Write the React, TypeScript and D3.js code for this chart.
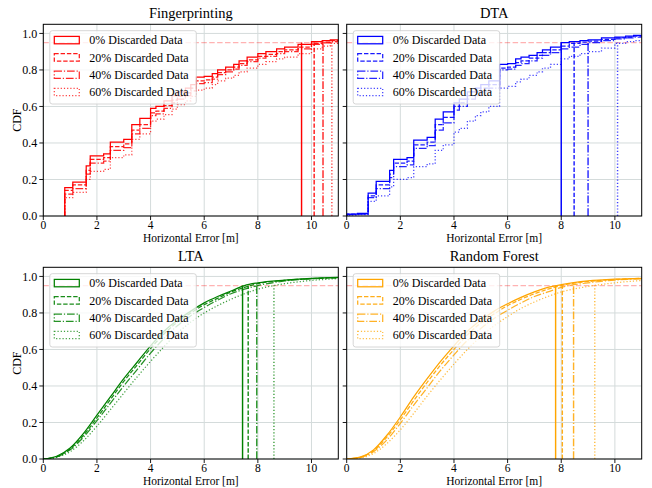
import React from 'react';
import * as d3 from 'd3';

// ---------- data ----------
const panelTitles = ['Fingerprinting', 'DTA', 'LTA', 'Random Forest'];
const panelColors = ['red', 'blue', 'green', 'orange'];
const seriesLabels = ['0% Discarded Data', '20% Discarded Data', '40% Discarded Data', '60% Discarded Data'];
const xTicks = [0, 2, 4, 6, 8, 10];
const yTicks = [0, 0.2, 0.4, 0.6, 0.8, 1.0];
const xTickLabels = ['0', '2', '4', '6', '8', '10'];
const yTickLabels = ['0.0', '0.2', '0.4', '0.6', '0.8', '1.0'];
const xLabel = 'Horizontal Error [m]';
const yLabel = 'CDF';
const threshold = 0.95;

// Fingerprinting (step CDF)
const fpX = [0.8, 1.1, 1.6, 1.75, 2.25, 2.5, 3.0, 3.3, 3.6, 4.0, 4.2, 4.5, 4.8, 5.0, 5.3, 5.5, 5.7, 6.0, 6.3, 6.5, 6.8, 7.1, 7.3, 7.6, 8.0, 8.3, 8.7, 9.0, 9.5, 10.0, 10.4, 10.7];
const fp0 = [0.155, 0.185, 0.275, 0.33, 0.34, 0.405, 0.42, 0.50, 0.535, 0.59, 0.60, 0.63, 0.66, 0.68, 0.70, 0.72, 0.76, 0.765, 0.78, 0.80, 0.815, 0.83, 0.85, 0.87, 0.89, 0.90, 0.915, 0.925, 0.94, 0.955, 0.96, 0.965];
const fp20 = [0.14, 0.17, 0.25, 0.31, 0.32, 0.38, 0.395, 0.47, 0.50, 0.565, 0.575, 0.605, 0.635, 0.655, 0.675, 0.70, 0.74, 0.745, 0.76, 0.785, 0.80, 0.815, 0.835, 0.855, 0.875, 0.885, 0.90, 0.91, 0.925, 0.945, 0.952, 0.96];
const fp40 = [0.12, 0.15, 0.23, 0.29, 0.30, 0.36, 0.375, 0.45, 0.48, 0.55, 0.56, 0.59, 0.62, 0.64, 0.66, 0.685, 0.725, 0.73, 0.75, 0.775, 0.79, 0.805, 0.825, 0.845, 0.865, 0.875, 0.89, 0.90, 0.915, 0.94, 0.948, 0.955];
const fp60 = [0.10, 0.13, 0.20, 0.245, 0.255, 0.32, 0.335, 0.42, 0.45, 0.52, 0.53, 0.555, 0.585, 0.61, 0.63, 0.655, 0.69, 0.70, 0.72, 0.74, 0.755, 0.77, 0.79, 0.81, 0.83, 0.845, 0.86, 0.87, 0.89, 0.915, 0.93, 0.945];
const fpP95 = [9.63, 10.1, 10.43, 10.76];

// DTA (step CDF)
const dtaX = [0, 0.4, 0.8, 1.1, 1.6, 1.75, 2.25, 2.5, 3.0, 3.3, 3.6, 4.0, 4.2, 4.5, 4.8, 5.0, 5.3, 5.7, 6.0, 6.3, 6.5, 6.8, 7.1, 7.3, 7.6, 8.0, 8.3, 8.7, 9.0, 9.5, 10.0, 10.4, 10.7];
const dta0 = [0.01, 0.015, 0.125, 0.19, 0.25, 0.31, 0.32, 0.415, 0.43, 0.53, 0.57, 0.62, 0.64, 0.68, 0.70, 0.72, 0.74, 0.83, 0.835, 0.86, 0.87, 0.88, 0.895, 0.91, 0.925, 0.95, 0.955, 0.96, 0.965, 0.975, 0.98, 0.985, 0.99];
const dta20 = [0.01, 0.012, 0.11, 0.17, 0.23, 0.29, 0.30, 0.39, 0.405, 0.50, 0.54, 0.60, 0.62, 0.66, 0.68, 0.70, 0.72, 0.81, 0.815, 0.84, 0.85, 0.865, 0.88, 0.895, 0.91, 0.93, 0.945, 0.952, 0.958, 0.968, 0.975, 0.98, 0.985];
const dta40 = [0.008, 0.01, 0.10, 0.15, 0.21, 0.27, 0.28, 0.37, 0.385, 0.47, 0.51, 0.58, 0.60, 0.64, 0.66, 0.68, 0.70, 0.80, 0.805, 0.825, 0.835, 0.85, 0.865, 0.88, 0.895, 0.915, 0.925, 0.94, 0.95, 0.96, 0.97, 0.975, 0.98];
const dta60 = [0.005, 0.008, 0.08, 0.11, 0.16, 0.20, 0.21, 0.27, 0.285, 0.36, 0.39, 0.46, 0.48, 0.52, 0.55, 0.57, 0.60, 0.70, 0.71, 0.735, 0.75, 0.77, 0.79, 0.81, 0.83, 0.86, 0.875, 0.89, 0.90, 0.92, 0.945, 0.955, 0.96];
const dtaP95 = [8.0, 8.48, 9.0, 10.1];

// LTA & Random Forest (smooth CDF)
const smoothX = [0, 0.5, 1, 1.5, 2, 2.5, 3, 3.5, 4, 4.5, 5, 5.5, 6, 6.5, 7, 7.5, 8, 9, 10, 11];
const lta0 = [0, 0.015, 0.06, 0.14, 0.24, 0.34, 0.44, 0.53, 0.62, 0.70, 0.76, 0.81, 0.855, 0.89, 0.92, 0.95, 0.965, 0.98, 0.99, 0.995];
const lta20 = [0, 0.013, 0.055, 0.13, 0.225, 0.325, 0.425, 0.515, 0.605, 0.685, 0.75, 0.80, 0.845, 0.88, 0.915, 0.94, 0.96, 0.978, 0.988, 0.993];
const lta40 = [0, 0.012, 0.05, 0.12, 0.21, 0.305, 0.40, 0.49, 0.58, 0.66, 0.73, 0.785, 0.83, 0.87, 0.905, 0.93, 0.95, 0.975, 0.987, 0.993];
const lta60 = [0, 0.01, 0.04, 0.10, 0.18, 0.27, 0.36, 0.45, 0.535, 0.615, 0.69, 0.75, 0.80, 0.84, 0.875, 0.905, 0.93, 0.96, 0.978, 0.988];
const ltaP95 = [7.43, 7.64, 7.96, 8.6];

const rf0 = [0, 0.01, 0.05, 0.13, 0.23, 0.34, 0.44, 0.535, 0.62, 0.70, 0.76, 0.81, 0.85, 0.885, 0.915, 0.94, 0.955, 0.975, 0.985, 0.99];
const rf20 = [0, 0.009, 0.045, 0.12, 0.215, 0.32, 0.42, 0.515, 0.60, 0.68, 0.745, 0.795, 0.84, 0.875, 0.905, 0.93, 0.95, 0.972, 0.983, 0.99];
const rf40 = [0, 0.008, 0.04, 0.105, 0.195, 0.295, 0.39, 0.485, 0.57, 0.65, 0.715, 0.77, 0.815, 0.855, 0.89, 0.915, 0.94, 0.965, 0.98, 0.987];
const rf60 = [0, 0.006, 0.03, 0.085, 0.16, 0.25, 0.345, 0.435, 0.52, 0.60, 0.67, 0.73, 0.78, 0.825, 0.86, 0.89, 0.915, 0.945, 0.965, 0.978];
const rfP95 = [7.79, 8.04, 8.46, 9.25];

// ---------- build panel configs ----------
const panelData = [
  { step: true, xs: fpX, ys: [fp0, fp20, fp40, fp60], p95: fpP95 },
  { step: true, xs: dtaX, ys: [dta0, dta20, dta40, dta60], p95: dtaP95 },
  { step: false, xs: smoothX, ys: [lta0, lta20, lta40, lta60], p95: ltaP95 },
  { step: false, xs: smoothX, ys: [rf0, rf20, rf40, rf60], p95: rfP95 },
];

// ---------- layout / style ----------
const W = 652, H = 488;
const panelW = 295, panelH = 191.7;
const lefts = [43.3, 346.7];
const tops = [24.3, 267.3];
const xDomain = [0, 11];
const yDomain = [0, 1.05];
const font = '"Liberation Serif", "Times New Roman", serif';
const gridColor = '#d4dbdb';
const lw = 1.25;
const dashes = ['none', '4.4,1.9', '7.7,1.9,1.2,1.9', '1.2,2'];
const alphas = [1, 0.9, 0.85, 0.75];

function Panel({ idx }: { idx: number }) {
  const col = idx % 2, row = Math.floor(idx / 2);
  const left = lefts[col], top = tops[row];
  const d = panelData[idx];
  const color = panelColors[idx];
  const x = d3.scaleLinear().domain(xDomain).range([left, left + panelW]);
  const y = d3.scaleLinear().domain(yDomain).range([top + panelH, top]);
  const clipId = `clip${idx}`;

  const paths = d.ys.map((ys) => {
    let pts: [number, number][];
    let gen;
    if (d.step) {
      pts = [[d.xs[0], 0], ...d.xs.map((xv, i) => [xv, ys[i]] as [number, number]), [xDomain[1] + 0.5, ys[ys.length - 1]]];
      gen = d3.line<[number, number]>().x((p) => x(p[0])).y((p) => y(p[1])).curve(d3.curveStepAfter);
    } else {
      pts = d.xs.map((xv, i) => [xv, ys[i]] as [number, number]);
      gen = d3.line<[number, number]>().x((p) => x(p[0])).y((p) => y(p[1])).curve(d3.curveMonotoneX);
    }
    return gen(pts) || '';
  });

  const bottom = top + panelH;
  const legX = left + 6.5, legY = top + 6.4;
  return (
    <g>
      <defs>
        <clipPath id={clipId}>
          <rect x={left} y={top} width={panelW} height={panelH} />
        </clipPath>
      </defs>
      {xTicks.map((t) => (
        <line key={'gx' + t} x1={x(t)} x2={x(t)} y1={top} y2={bottom} stroke={gridColor} strokeWidth={1} />
      ))}
      {yTicks.map((t) => (
        <line key={'gy' + t} x1={left} x2={left + panelW} y1={y(t)} y2={y(t)} stroke={gridColor} strokeWidth={1} />
      ))}
      <g clipPath={`url(#${clipId})`}>
        <line x1={left} x2={left + panelW} y1={y(threshold)} y2={y(threshold)} stroke="red" strokeOpacity={0.3} strokeWidth={1.2} strokeDasharray="5.5,2.4" />
        {paths.map((p, i) => (
          <path key={'s' + i} d={p} fill="none" stroke={color} strokeWidth={lw} strokeDasharray={dashes[i]} strokeOpacity={alphas[i]} />
        ))}
        {d.p95.map((v, i) => (
          <line key={'v' + i} x1={x(v)} x2={x(v)} y1={y(0)} y2={y(threshold)} stroke={color} strokeWidth={lw * 1.15} strokeDasharray={dashes[i]} strokeOpacity={alphas[i]} />
        ))}
      </g>
      <rect x={left} y={top} width={panelW} height={panelH} fill="none" stroke="black" strokeWidth={1} />
      {xTicks.map((t, i) => (
        <g key={'tx' + t}>
          <line x1={x(t)} x2={x(t)} y1={bottom} y2={bottom + 4} stroke="black" strokeWidth={0.9} />
          <text x={x(t)} y={bottom + 13} textAnchor="middle" fontSize={11.5} fontFamily={font}>{xTickLabels[i]}</text>
        </g>
      ))}
      {yTicks.map((t, i) => (
        <g key={'ty' + t}>
          <line x1={left - 4} x2={left} y1={y(t)} y2={y(t)} stroke="black" strokeWidth={0.9} />
          {col === 0 && (
            <text x={left - 6} y={y(t)} dy="0.35em" textAnchor="end" fontSize={12} fontFamily={font}>{yTickLabels[i]}</text>
          )}
        </g>
      ))}
      <text x={left + panelW / 2} y={bottom + 26} textAnchor="middle" fontSize={11.5} fontFamily={font}>{xLabel}</text>
      {col === 0 && (
        <text transform={`translate(20.5,${top + panelH / 2}) rotate(-90)`} textAnchor="middle" fontSize={12} fontFamily={font}>{yLabel}</text>
      )}
      <text x={left + panelW / 2} y={top - 6.5} textAnchor="middle" fontSize={14.5} fontFamily={font}>{panelTitles[idx]}</text>
      <rect x={legX} y={legY} width={146.5} height={73.3} rx={2.5} fill="white" fillOpacity={0.8} stroke="#cccccc" strokeWidth={0.8} />
      {seriesLabels.map((lab, i) => {
        const cy = top + 15.8 + i * 17.3;
        return (
          <g key={'l' + i}>
            <rect x={left + 11} y={cy - 3.7} width={25} height={7.4} fill="none" stroke={color} strokeWidth={lw} strokeDasharray={dashes[i]} strokeOpacity={alphas[i]} />
            <text x={left + 46} y={cy} dy="0.35em" fontSize={12} fontFamily={font}>{lab}</text>
          </g>
        );
      })}
    </g>
  );
}

export default function App() {
  return (
    <svg width={W} height={H} style={{ position: 'absolute', left: 0, top: 0, background: 'white' }}>
      <rect x={0} y={0} width={W} height={H} fill="white" />
      {[0, 1, 2, 3].map((i) => (
        <Panel key={i} idx={i} />
      ))}
    </svg>
  );
}
